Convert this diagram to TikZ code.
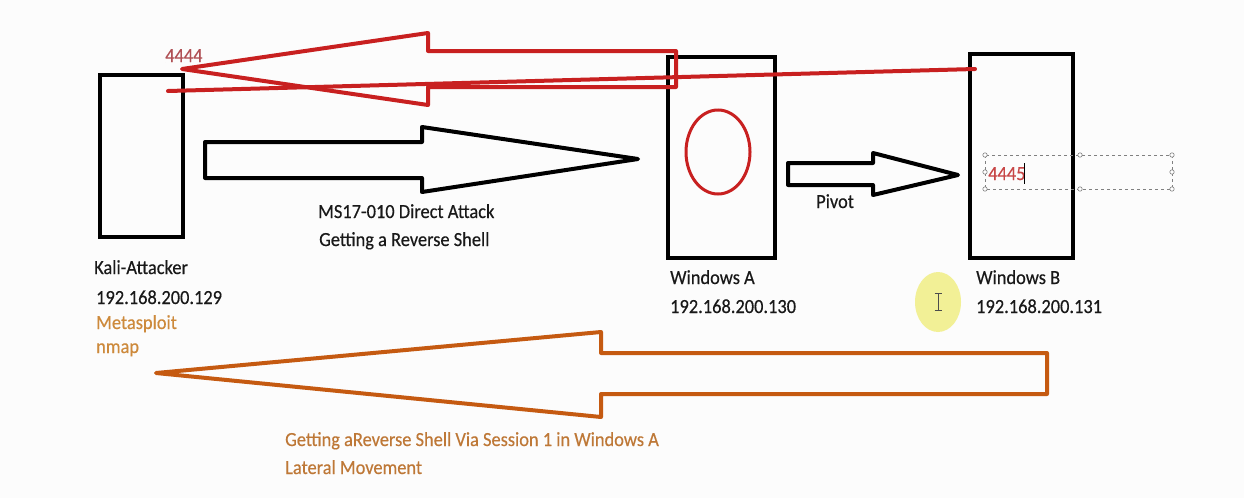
\documentclass[tikz,border=0pt]{standalone}
\usepackage{fontspec}
\setmainfont{Carlito}
\newfontfamily\lblfont{Carlito}[FakeBold=0.4]
\usetikzlibrary{shapes.geometric}
\definecolor{redln}{RGB}{200,32,32}
\definecolor{redtxt}{RGB}{176,80,85}
\definecolor{redtxtb}{RGB}{200,70,70}
\definecolor{orln}{RGB}{197,90,17}
\definecolor{ortxt}{RGB}{190,120,55}
\definecolor{metac}{RGB}{205,138,60}
\definecolor{blk}{RGB}{25,25,25}
\definecolor{hilite}{RGB}{242,240,150}
\definecolor{bg}{RGB}{252,252,252}
\newcommand\sq[1]{\scalebox{0.92}[1]{#1}}
\begin{document}
\begin{tikzpicture}[x=1pt,y=-1pt,
  box/.style={draw=black,line width=4pt,rectangle,inner sep=0pt},
  tx/.style={anchor=base west,inner sep=0pt,text=blk,font=\lblfont\fontsize{20}{24}\selectfont},
  blockarrow/.style={line width=4pt,line join=round},
  handle/.style={draw=gray,fill=white,line width=0.6pt}]
\fill[bg] (0,0) rectangle (1244,498);
\useasboundingbox (0,0) rectangle (1244,498);

% boxes
\node[box,minimum width=83,minimum height=162] (kali) at (141.5,156) {};
\node[box,minimum width=107,minimum height=201] (wa) at (721.5,157.5) {};
\node[box,minimum width=103,minimum height=204] (wb) at (1021.5,156) {};
\node[draw=redln,line width=3pt,ellipse,inner sep=0pt,minimum width=64,minimum height=84] (sess) at (718,152) {};

% red reverse arrow (4444)
\draw[blockarrow,draw=redln] (676,51) -- (428,51) -- (428,33) -- (182,69) -- (428,105) -- (428,87) -- (676,87) -- cycle;
\coordinate (rs) at (168,91);
\coordinate (re) at (975,69);
\draw[redln,line width=4pt,line cap=round] (rs) -- (re);

% black attack arrow
\draw[blockarrow,draw=black] (205,142) -- (422,142) -- (422,127) -- (638,159) -- (422,192) -- (422,178) -- (205,178) -- cycle;

% pivot arrow
\draw[blockarrow,draw=black] (788,163) -- (873,163) -- (873,153) -- (958,175) -- (873,195) -- (873,185) -- (788,185) -- cycle;

% orange lateral arrow
\draw[blockarrow,draw=orln] (1047,353) -- (601,353) -- (601,332) -- (156,373) -- (601,417) -- (601,394) -- (1047,394) -- cycle;

% text box with handles
\draw[gray,dashed,line width=0.8pt] (985,155) rectangle (1172,189);
\foreach \hx/\hy in {985/155,1080/155,1172/155,985/189,1080/189,1172/189,985/172,1172/172}
  \draw[handle] (\hx,\hy) circle (2.2);
\node[tx,text=redtxtb] (p4445) at (988,180) {\sq{4445}};
\draw[black,line width=1pt] (1024,163) -- (1024,184);

% yellow cursor highlight
\fill[hilite] (938,302) ellipse [x radius=23,y radius=30];
\draw[gray!60!black,line width=1pt] (938,293) -- (938,310) (934.5,293) -- (941.5,293) (934.5,310) -- (941.5,310);

% labels
\node[tx,text=redtxt] (p4444) at (165,62) {\sq{4444}};
\node[tx] (kalilbl) at (94,274) {\sq{Kali-Attacker}};
\node[tx] (kaliip) at (96,304) {\sq{192.168.200.129}};
\node[tx,text=metac] (meta) at (96,329) {\sq{Metasploit}};
\node[tx,text=metac] (nmap) at (96,353) {\sq{nmap}};
\node[tx] (ms1) at (318,218) {\sq{MS17-010 Direct Attack}};
\node[tx] (ms2) at (319,246) {\sq{Getting a Reverse Shell}};
\node[tx] (pivot) at (816,208) {\sq{Pivot}};
\node[tx] (walbl) at (670,284) {\sq{Windows A}};
\node[tx] (waip) at (670,313) {\sq{192.168.200.130}};
\node[tx] (wblbl) at (976,284) {\sq{Windows B}};
\node[tx] (wbip) at (976,313) {\sq{192.168.200.131}};
\node[tx,text=ortxt] (lat1) at (285,446) {\sq{Getting aReverse Shell Via Session 1 in Windows A}};
\node[tx,text=ortxt] (lat2) at (285,474) {\sq{Lateral Movement}};
\end{tikzpicture}
\end{document}
